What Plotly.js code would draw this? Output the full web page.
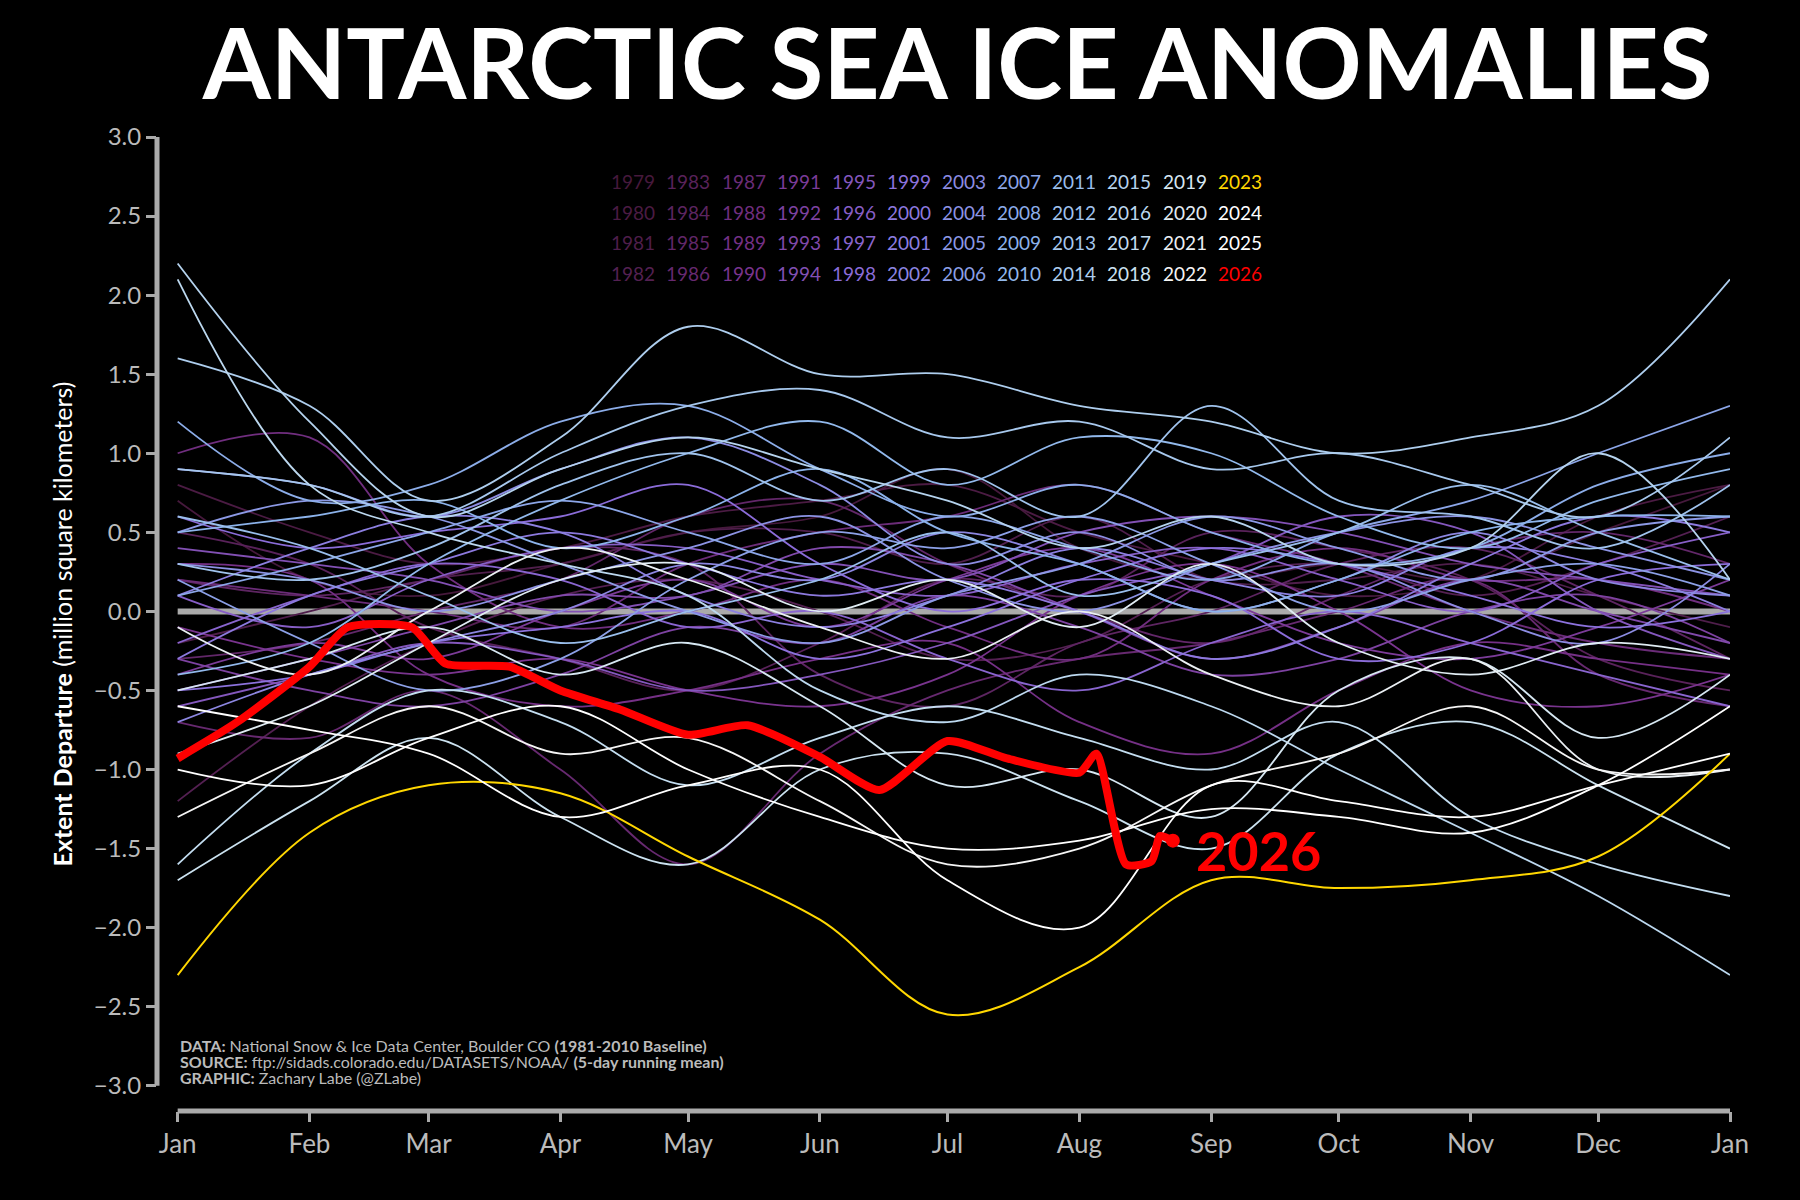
<!DOCTYPE html>
<html><head><meta charset="utf-8">
<script src="https://cdn.plot.ly/plotly-3.0.1.min.js"></script>
<style>body{margin:0;background:#000}#c{width:1800px;height:1200px}</style>
</head><body><div id="c"></div>
<script>
const monthLabels=["Jan","Feb","Mar","Apr","May","Jun","Jul","Aug","Sep","Oct","Nov","Dec","Jan"];
const monthDays=[0,31,59,90,120,151,181,212,243,273,304,334,365];
const years=[];for(let y=1979;y<=2025;y++)years.push(y);
const v1979=[0.7,0.2,0.1,0.3,0.5,0.6,0.9,0.4,0.2,0.3,0.2,0.5,0.8];
const v1980=[0.8,0.5,0.3,0.4,0.6,0.7,0.8,0.5,0.3,0.1,0.2,0.6,0.8];
const v1981=[-0.2,0.0,0.2,0.3,0.5,0.5,0.3,0.6,0.2,0.2,0.3,0.1,-0.1];
const v1982=[-1.2,-0.6,-0.2,0.1,0.2,0.0,-0.3,-0.2,0.2,0.3,0.1,0.3,0.6];
const v1983=[0.5,0.3,-0.1,-0.3,-0.5,-0.2,0.2,0.1,0.5,0.4,0.2,-0.3,-0.5];
const v1984=[0.2,0.1,0.2,0.4,0.3,-0.4,-0.6,-0.2,0.0,0.3,0.4,0.1,-0.3];
const v1985=[-0.3,-0.2,0.0,0.2,0.6,0.7,0.3,0.0,-0.2,0.1,0.4,0.5,0.3];
const v1986=[-0.7,-0.8,-0.5,-1.0,-1.6,-0.9,-0.5,-0.3,-0.2,0.0,0.2,-0.4,-0.6];
const v1987=[0.2,0.1,0.0,-0.1,0.3,0.5,0.6,0.8,0.5,0.3,0.0,-0.2,-0.3];
const v1988=[1.0,1.1,0.3,-0.1,0.0,0.2,-0.1,-0.3,0.2,0.4,0.2,0.2,0.0];
const v1989=[0.3,0.2,-0.4,-0.6,-0.5,-0.3,-0.2,-0.7,-0.9,-0.5,-0.2,-0.3,-0.4];
const v1990=[-0.1,-0.3,-0.4,-0.3,-0.5,-0.6,-0.4,0.1,0.3,0.0,-0.5,-0.6,-0.4];
const v1991=[-0.4,-0.2,-0.3,0.0,0.2,-0.1,0.2,0.4,0.1,-0.2,-0.3,-0.1,0.2];
const v1992=[-0.3,-0.5,-0.6,-0.4,-0.1,-0.2,0.1,-0.1,-0.4,-0.3,0.0,0.1,-0.2];
const v1993=[-0.5,-0.3,-0.1,0.1,0.1,0.4,0.3,0.0,-0.3,-0.1,0.2,0.0,-0.2];
const v1994=[0.4,0.3,0.2,0.0,0.1,0.3,0.2,0.5,0.6,0.5,0.3,0.2,0.1];
const v1995=[-0.6,-0.4,-0.2,-0.3,-0.5,-0.4,-0.2,0.1,0.3,0.6,0.5,0.0,-0.3];
const v1996=[0.1,-0.1,0.2,0.4,0.4,0.2,0.1,0.3,0.4,0.2,0.0,0.3,0.5];
const v1997=[-0.2,0.1,0.3,0.2,-0.1,0.0,-0.3,-0.5,-0.2,0.0,-0.2,-0.4,-0.6];
const v1998=[0.6,0.4,0.5,0.6,0.8,0.3,0.0,0.2,0.1,-0.3,-0.2,0.2,0.3];
const v1999=[-0.5,-0.4,-0.2,-0.1,0.0,-0.3,-0.1,0.2,0.4,0.3,0.1,-0.1,0.0];
const v2000=[-0.3,0.1,0.3,0.5,0.3,0.1,0.2,0.0,-0.3,-0.1,0.3,0.6,0.5];
const v2001=[0.1,0.4,0.6,0.5,0.1,-0.1,0.1,0.4,0.2,0.1,0.4,0.3,0.0];
const v2002=[-0.7,-0.4,-0.2,0.0,0.3,0.2,0.5,0.3,0.0,0.2,0.5,0.2,0.1];
const v2003=[0.9,0.8,0.6,0.9,1.1,0.8,0.3,0.5,0.2,0.3,0.0,-0.2,0.3];
const v2004=[0.3,0.2,0.0,0.2,0.4,0.6,0.2,0.0,0.3,0.5,0.6,0.4,0.2];
const v2005=[0.5,0.7,0.6,0.3,0.0,-0.2,0.1,0.3,0.6,0.4,0.2,0.5,0.6];
const v2006=[0.2,-0.2,-0.5,-0.3,0.2,0.5,0.4,0.6,0.3,0.0,0.2,0.3,0.1];
const v2007=[0.1,0.3,0.5,0.7,0.5,0.3,0.6,0.4,0.2,0.5,0.7,1.0,1.3];
const v2008=[1.2,0.7,0.8,1.2,1.3,0.9,0.6,0.8,0.5,0.3,0.4,0.8,1.0];
const v2009=[0.5,0.6,0.7,0.4,0.6,0.9,0.5,0.3,0.0,0.2,0.5,0.6,0.6];
const v2010=[-0.4,-0.2,0.3,0.7,1.0,1.2,0.8,1.1,1.0,0.6,0.4,0.7,0.9];
const v2011=[0.6,0.4,0.1,-0.2,0.0,0.2,0.5,0.1,0.3,0.5,0.8,0.5,0.2];
const v2012=[0.3,0.2,0.4,0.8,1.0,0.7,0.9,0.6,1.3,0.7,0.6,0.4,0.8];
const v2013=[0.9,0.8,0.6,1.0,1.3,1.4,1.1,1.2,0.9,1.0,0.8,0.6,1.1];
const v2014=[1.6,1.3,0.7,1.1,1.8,1.5,1.5,1.3,1.2,1.0,1.1,1.3,2.1];
const v2015=[2.2,1.2,0.6,0.9,1.1,0.9,0.7,0.4,0.6,0.3,0.4,1.0,0.2];
const v2016=[2.1,0.8,0.5,0.3,0.1,-0.5,-0.7,-0.4,-0.6,-1.0,-1.4,-1.8,-2.3];
const v2017=[-1.6,-0.9,-0.5,-0.7,-1.1,-0.8,-0.6,-0.8,-1.0,-0.7,-1.3,-1.6,-1.8];
const v2018=[-1.7,-1.2,-0.8,-1.3,-1.6,-1.0,-0.9,-1.2,-1.5,-0.9,-0.7,-1.1,-1.5];
const v2019=[-0.5,-0.3,-0.1,-0.4,-0.2,-0.6,-1.1,-1.0,-1.3,-0.5,-0.3,-0.8,-0.4];
const v2020=[-0.9,-0.6,-0.2,0.2,0.3,0.0,0.2,-0.1,0.3,-0.2,-0.4,-0.2,-0.3];
const v2021=[-0.1,-0.4,0.0,0.4,0.2,-0.1,-0.3,0.0,-0.4,-0.6,-0.3,-1.0,-1.0];
const v2022=[-1.3,-0.9,-0.6,-0.9,-0.8,-1.2,-1.6,-1.5,-1.1,-0.9,-0.6,-1.0,-1.0];
const v2023=[-2.3,-1.4,-1.1,-1.15,-1.55,-1.95,-2.55,-2.25,-1.7,-1.75,-1.7,-1.55,-0.9];
const v2024=[-1.0,-1.1,-0.8,-0.6,-1.0,-1.3,-1.5,-1.45,-1.25,-1.3,-1.4,-1.1,-0.6];
const v2025=[-0.6,-0.75,-0.9,-1.3,-1.1,-1.0,-1.7,-2.0,-1.1,-1.2,-1.3,-1.1,-0.9];
const series={1979:v1979,1980:v1980,1981:v1981,1982:v1982,1983:v1983,1984:v1984,1985:v1985,1986:v1986,1987:v1987,1988:v1988,1989:v1989,1990:v1990,1991:v1991,1992:v1992,1993:v1993,1994:v1994,1995:v1995,1996:v1996,1997:v1997,1998:v1998,1999:v1999,2000:v2000,2001:v2001,2002:v2002,2003:v2003,2004:v2004,2005:v2005,2006:v2006,2007:v2007,2008:v2008,2009:v2009,2010:v2010,2011:v2011,2012:v2012,2013:v2013,2014:v2014,2015:v2015,2016:v2016,2017:v2017,2018:v2018,2019:v2019,2020:v2020,2021:v2021,2022:v2022,2023:v2023,2024:v2024,2025:v2025};
const days2026=[0,14,31,40,55,63,78,90,104,120,134,151,165,181,195,212,216,223,229,231,234];
const v2026=[-0.93,-0.7,-0.35,-0.1,-0.1,-0.33,-0.35,-0.5,-0.62,-0.78,-0.72,-0.92,-1.13,-0.82,-0.93,-1.02,-0.9,-1.6,-1.58,-1.42,-1.45];

const stops=[[0,[70,25,60]],[0.25,[120,50,140]],[0.45,[140,110,220]],[0.7,[140,180,235]],[0.9,[200,225,240]],[1,[245,245,245]]];
function col(y){const t=(y-1979)/(2022-1979);for(let i=1;i<stops.length;i++){if(t<=stops[i][0]){const a=stops[i-1],b=stops[i];const f=(t-a[0])/(b[0]-a[0]);const c=a[1].map((v,k)=>Math.round(v+(b[1][k]-v)*f));return `rgb(${c})`;}}return 'rgb(245,245,245)';}
function ycol(y){return y===2023?'#ffd700':y===2026?'#ff0000':y>2023?'#ffffff':col(Math.min(y,2022));}

const traces=[];
years.forEach(y=>traces.push({x:monthDays,y:series[y],type:'scatter',mode:'lines',line:{color:ycol(y),width:y===2023?2:1.8,shape:'spline',smoothing:1},hoverinfo:'skip'}));
traces.push({x:days2026,y:v2026,type:'scatter',mode:'lines',line:{color:'#ff0000',width:8,shape:'spline',smoothing:0.6}});
traces.push({x:[days2026[days2026.length-1]],y:[v2026[v2026.length-1]],mode:'markers',marker:{color:'#ff0000',size:14}});

const ann=[];
const allY=years.concat([2026]);
allY.forEach((y,i)=>{const c=Math.floor(i/4),r=i%4;ann.push({xref:'paper',yref:'paper',x:(531-137+c*48)/1370,y:1-(146-119+r*26.7)/849,text:String(y),showarrow:false,xanchor:'left',font:{family:'Lato',size:19,color:ycol(y)}});});
ann.push({x:days2026[days2026.length-1]+5,y:v2026[v2026.length-1]-0.06,text:'<b>2026</b>',showarrow:false,xanchor:'left',font:{family:'Lato',size:54,color:'#ff0000'}});
const foot=['<b>DATA:</b> National Snow & Ice Data Center, Boulder CO <b>(1981-2010 Baseline)</b>','<b>SOURCE:</b> ftp://sidads.colorado.edu/DATASETS/NOAA/ <b>(5-day running mean)</b>','<b>GRAPHIC:</b> Zachary Labe (@ZLabe)'];
foot.forEach((t,i)=>ann.push({xref:'paper',yref:'paper',x:18/1370,y:1-(921-119+i*14)/849,text:t,showarrow:false,xanchor:'left',font:{family:'Lato',size:16,color:'#bbbbbb'}}));

const xr0=-18/1352*365;
const layout={width:1800,height:1200,paper_bgcolor:'#000',plot_bgcolor:'#000',showlegend:false,
margin:{l:157,r:70,t:137,b:89},
title:{text:'<b>ANTARCTIC SEA ICE ANOMALIES</b>',x:0.532,xanchor:'center',y:0.975,yanchor:'top',font:{family:'Lato',size:98,color:'#fff'}},
xaxis:{range:[xr0,365],tickvals:monthDays,ticktext:monthLabels,showgrid:false,zeroline:false,showline:false,ticks:'outside',ticklen:10,tickwidth:3,tickcolor:'#aaa',tickfont:{family:'Lato',size:26,color:'#bbb'}},
yaxis:{range:[-3-22/(827/6),3],tickvals:[-3,-2.5,-2,-1.5,-1,-0.5,0,0.5,1,1.5,2,2.5,3],tickformat:'.1f',showgrid:false,zeroline:false,showline:false,ticks:'outside',ticklen:10,tickwidth:3,tickcolor:'#aaa',tickfont:{family:'Lato',size:24,color:'#bbb'},
title:{text:'<b>Extent Departure</b> (million square kilometers)',font:{family:'Lato',size:25,color:'#fff'},standoff:14}},
shapes:[{type:'line',xref:'x',yref:'y',x0:0,x1:365,y0:0,y1:0,line:{color:'#aaa',width:6},layer:'below'},
{type:'line',xref:'paper',yref:'y',x0:0,x1:0,y0:-3,y1:3,line:{color:'#aaa',width:5}},
{type:'line',xref:'x',yref:'paper',x0:0,x1:365,y0:0,y1:0,line:{color:'#aaa',width:5}}],
annotations:ann};
Plotly.newPlot('c',traces,layout,{displayModeBar:false});
</script></body></html>
